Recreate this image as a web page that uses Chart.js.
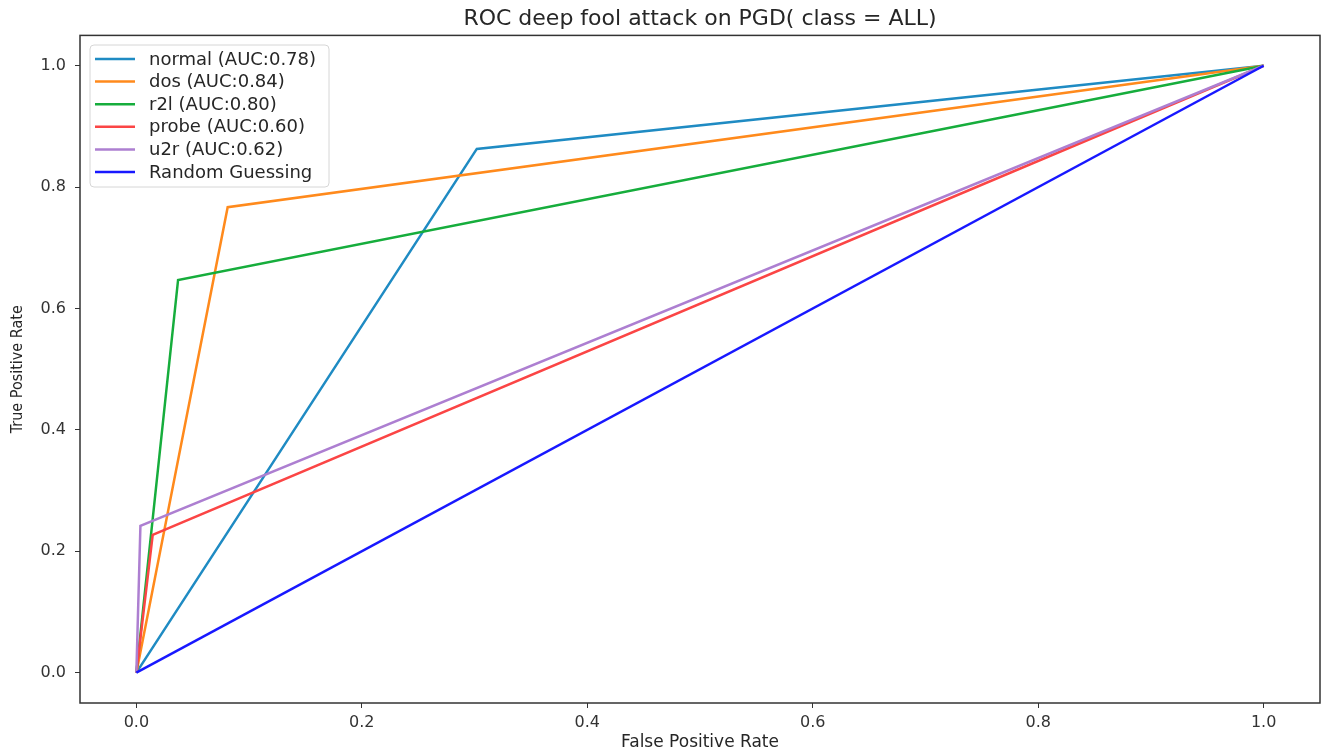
<!DOCTYPE html>
<html>
<head>
<meta charset="utf-8">
<script src="https://cdn.jsdelivr.net/npm/chart.js@4"></script>
<style>
  html, body { margin: 0; padding: 0; background: #fff; }
  #wrap { width: 1325px; height: 753px; }
</style>
</head>
<body>
<div id="wrap"><canvas id="roc"></canvas></div>
<script>
// data
const classes = ["normal", "dos", "r2l", "probe", "u2r"];
const aucs = ["0.78", "0.84", "0.80", "0.60", "0.62"];
const fprNormal = [0, 0.302, 1];
const tprNormal = [0, 0.863, 1];
const fprDos = [0, 0.081, 1];
const tprDos = [0, 0.767, 1];
const fprR2l = [0, 0.037, 1];
const tprR2l = [0, 0.647, 1];
const fprProbe = [0, 0.0145, 1];
const tprProbe = [0, 0.227, 1];
const fprU2r = [0, 0.0036, 1];
const tprU2r = [0, 0.242, 1];
const fprRandom = [0, 1];
const tprRandom = [0, 1];
const tickValues = [0, 0.2, 0.4, 0.6, 0.8, 1.0];

const colors = ["#1f8bc3", "#ff8a1c", "#16ad3c", "#fb4545", "#ad7fd1", "#1818ff"];
const curves = [
  [fprNormal, tprNormal],
  [fprDos, tprDos],
  [fprR2l, tprR2l],
  [fprProbe, tprProbe],
  [fprU2r, tprU2r],
  [fprRandom, tprRandom],
];
const labels = classes.map((c, i) => c + " (AUC:" + aucs[i] + ")").concat(["Random Guessing"]);

const toPoints = (xs, ys) => xs.map((x, i) => ({ x: x, y: ys[i] }));

const datasets = curves.map((c, i) => ({
  label: labels[i],
  data: toPoints(c[0], c[1]),
  borderColor: colors[i],
  backgroundColor: colors[i],
  borderWidth: 2.5,
  pointRadius: 0,
  showLine: true,
  order: curves.length - i,
}));

const sans = "'DejaVu Sans', sans-serif";

// frame round the plot + legend inside the top-left corner
const framePlugin = {
  id: "frame",
  afterDraw(chart) {
    const c = chart.ctx;
    const a = chart.chartArea;
    c.save();
    c.strokeStyle = "#333";
    c.lineWidth = 1.5;
    c.strokeRect(a.left, a.top, a.right - a.left, a.bottom - a.top);

    // legend
    const x0 = 90, y0 = 45, w = 239, h = 142;
    c.fillStyle = "rgba(255,255,255,0.85)";
    c.strokeStyle = "#d6d6d6";
    c.lineWidth = 1;
    c.beginPath();
    c.roundRect(x0, y0, w, h, 4);
    c.fill();
    c.stroke();
    c.font = "18px " + sans;
    c.textBaseline = "middle";
    c.fillStyle = "#262626";
    labels.forEach((lab, i) => {
      const y = 59 + i * 22.6;
      c.strokeStyle = colors[i];
      c.lineWidth = 2.5;
      c.beginPath();
      c.moveTo(95, y);
      c.lineTo(135, y);
      c.stroke();
      c.fillText(lab, 149, y + 1);
    });
    c.restore();
  },
};

new Chart(document.getElementById("roc"), {
  type: "scatter",
  data: { datasets: datasets },
  options: {
    responsive: true,
    maintainAspectRatio: false,
    animation: false,
    layout: { padding: { left: 0, right: 5, top: 0, bottom: 0 } },
    plugins: {
      legend: { display: false },
      tooltip: { enabled: false },
      title: {
        display: true,
        fullSize: false,
        text: "ROC deep fool attack on PGD( class = ALL)",
        color: "#262626",
        font: { family: sans, size: 22, weight: "normal" },
        padding: { top: 6, bottom: 3 },
      },
    },
    scales: {
      x: {
        type: "linear",
        min: -0.05,
        max: 1.05,
        afterBuildTicks: (s) => { s.ticks = tickValues.map((v) => ({ value: v })); },
        afterFit: (s) => { s.height = 50; },
        grid: { drawOnChartArea: false, drawTicks: true, tickLength: 5, color: "#333" },
        border: { display: false },
        ticks: {
          color: "#333",
          padding: 5,
          font: { family: sans, size: 16 },
          callback: (v) => Number(v).toFixed(1),
        },
        title: {
          display: true,
          text: "False Positive Rate",
          color: "#262626",
          font: { family: sans, size: 17 },
          padding: { top: 0, bottom: 0 },
        },
      },
      y: {
        type: "linear",
        min: -0.05,
        max: 1.05,
        afterBuildTicks: (s) => { s.ticks = tickValues.map((v) => ({ value: v })); },
        afterFit: (s) => { s.width = 80; },
        grid: { drawOnChartArea: false, drawTicks: true, tickLength: 5, color: "#333" },
        border: { display: false },
        ticks: {
          color: "#333",
          padding: 9,
          font: { family: sans, size: 16 },
          callback: (v) => Number(v).toFixed(1),
        },
        title: {
          display: true,
          text: "True Positive Rate",
          color: "#262626",
          font: { family: "'DejaVu Sans Condensed', 'Liberation Sans', sans-serif", size: 16 },
          padding: { top: 8, bottom: 0 },
        },
      },
    },
  },
  plugins: [framePlugin],
});
</script>
</body>
</html>
